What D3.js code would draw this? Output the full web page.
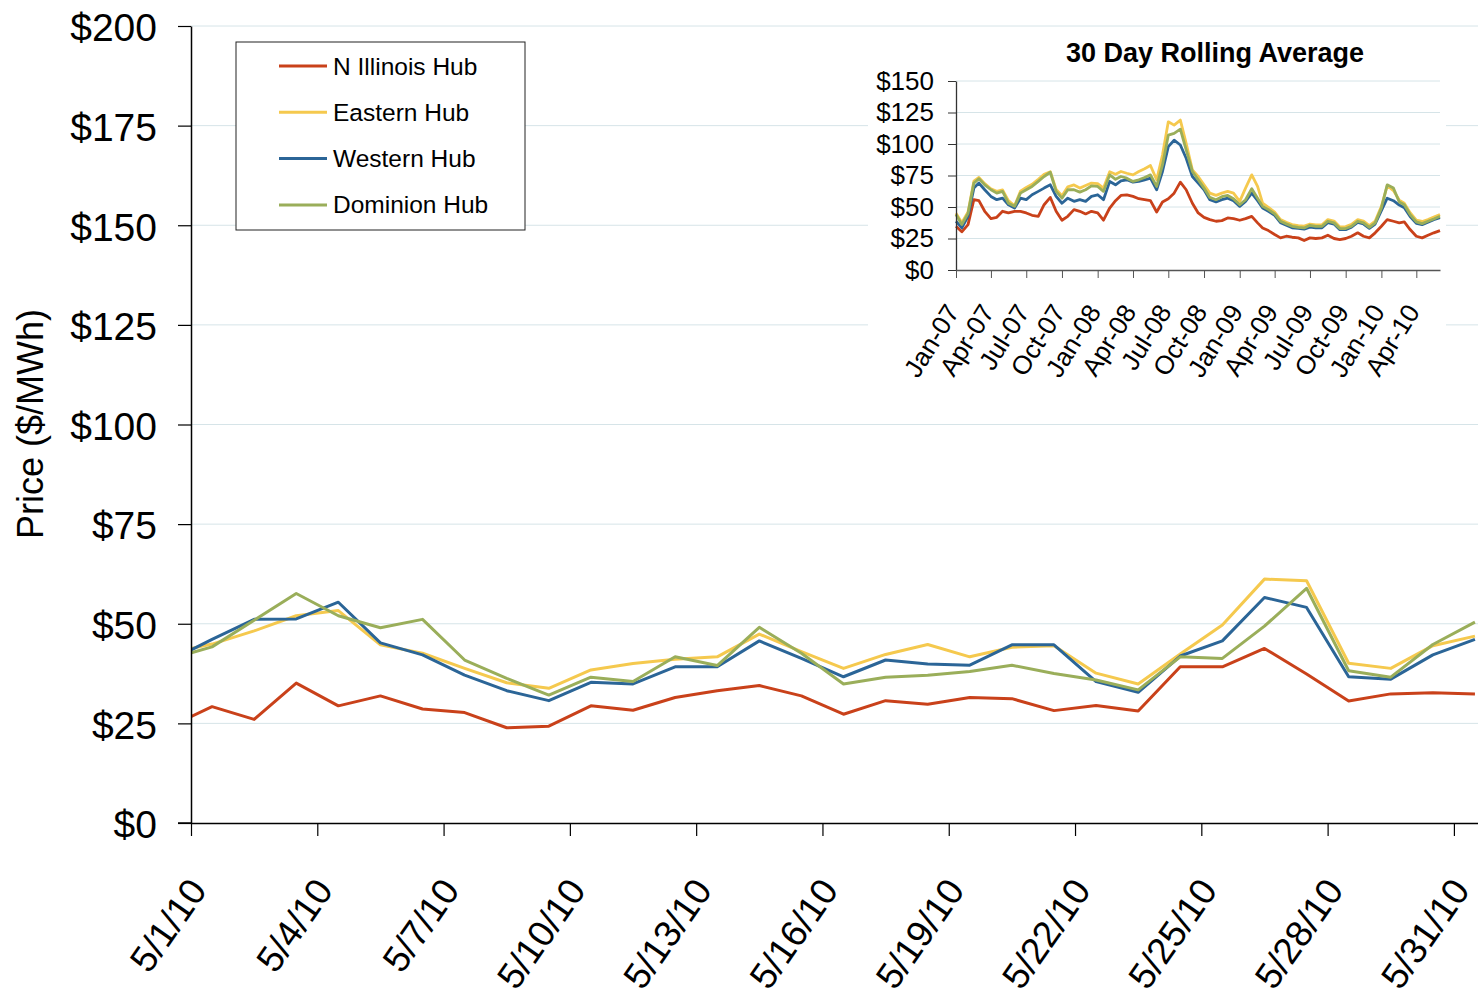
<!DOCTYPE html>
<html>
<head>
<meta charset="utf-8">
<script src="https://cdn.jsdelivr.net/npm/d3@7"></script>
<style>
  body { margin: 0; background: #fff; }
  svg { display: block; font-family: "Liberation Sans", Arial, sans-serif; }
</style>
</head>
<body>
<svg id="chart" width="1478" height="996"></svg>
<script>
// ---- daily prices, May 2010 (first entry 4/30 is only partly visible) ----
const dailyDates = ["2010-04-30",
  "2010-05-01","2010-05-02","2010-05-03","2010-05-04","2010-05-05","2010-05-06","2010-05-07","2010-05-08",
  "2010-05-09","2010-05-10","2010-05-11","2010-05-12","2010-05-13","2010-05-14","2010-05-15","2010-05-16",
  "2010-05-17","2010-05-18","2010-05-19","2010-05-20","2010-05-21","2010-05-22","2010-05-23","2010-05-24",
  "2010-05-25","2010-05-26","2010-05-27","2010-05-28","2010-05-29","2010-05-30","2010-05-31"];
const dailyNIllinois = [24.2, 29.2, 26.0, 35.1, 29.4, 31.9, 28.6, 27.7, 23.9, 24.3, 29.4, 28.3, 31.5, 33.2, 34.5, 31.9,
  27.3, 30.7, 29.8, 31.5, 31.2, 28.2, 29.5, 28.1, 39.2, 39.2, 43.8, 37.4, 30.6, 32.4, 32.7, 32.4];
const dailyEastern = [42.7, 44.9, 48.2, 52.0, 53.3, 44.7, 42.6, 38.8, 35.2, 33.8, 38.4, 40.0, 41.1, 41.7, 47.4, 43.0,
  38.8, 42.3, 44.8, 41.7, 44.1, 44.5, 37.6, 34.9, 42.4, 49.7, 61.2, 60.8, 40.1, 38.8, 44.5, 46.9];
const dailyWestern = [40.7, 46.1, 51.1, 51.2, 55.4, 45.2, 42.2, 37.1, 33.2, 30.7, 35.3, 34.9, 39.2, 39.2, 45.7, 41.3,
  36.7, 40.9, 39.9, 39.6, 44.7, 44.7, 35.5, 32.8, 41.9, 45.7, 56.6, 54.1, 36.7, 36.1, 42.2, 46.1];
const dailyDominion = [41.2, 44.2, 50.9, 57.6, 52.0, 49.0, 51.1, 40.9, 36.3, 32.1, 36.6, 35.5, 41.7, 39.5, 49.1, 42.6,
  34.9, 36.6, 37.1, 38.0, 39.6, 37.5, 35.9, 33.4, 41.7, 41.3, 49.4, 58.9, 38.2, 36.6, 44.8, 50.4];

// ---- 30 day rolling average (read twice a month) ----
const rollDates = [
  "2007-01-01","2007-01-16","2007-02-01","2007-02-16","2007-03-01","2007-03-16","2007-04-01","2007-04-16",
  "2007-05-01","2007-05-16","2007-06-01","2007-06-16","2007-07-01","2007-07-16","2007-08-01","2007-08-16",
  "2007-09-01","2007-09-16","2007-10-01","2007-10-16","2007-11-01","2007-11-16","2007-12-01","2007-12-16",
  "2008-01-01","2008-01-16","2008-02-01","2008-02-16","2008-03-01","2008-03-16","2008-04-01","2008-04-16",
  "2008-05-01","2008-05-16","2008-06-01","2008-06-16","2008-07-01","2008-07-16","2008-08-01","2008-08-16",
  "2008-09-01","2008-09-16","2008-10-01","2008-10-16","2008-11-01","2008-11-16","2008-12-01","2008-12-16",
  "2009-01-01","2009-01-16","2009-02-01","2009-02-16","2009-03-01","2009-03-16","2009-04-01","2009-04-16",
  "2009-05-01","2009-05-16","2009-06-01","2009-06-16","2009-07-01","2009-07-16","2009-08-01","2009-08-16",
  "2009-09-01","2009-09-16","2009-10-01","2009-10-16","2009-11-01","2009-11-16","2009-12-01","2009-12-16",
  "2010-01-01","2010-01-16","2010-02-01","2010-02-16","2010-03-01","2010-03-16","2010-04-01","2010-04-16",
  "2010-05-01","2010-05-16","2010-06-01"];
const rollNIllinois = [
  34.7, 30.3, 36.0, 55.8, 55.0, 46.6, 40.8, 41.8, 46.6, 45.3, 46.6, 46.6, 45.3, 43.4, 42.6, 51.8,
  57.6, 46.6, 39.5, 42.6, 47.9, 46.6, 44.5, 46.6, 45.3, 39.5, 49.2, 55.0, 59.2, 59.7, 58.4, 56.6,
  55.8, 55.0, 46.0, 54.0, 56.6, 61.0, 69.7, 63.7, 53.0, 45.3, 41.8, 40.0, 38.7, 39.2, 41.3, 40.8,
  39.5, 40.8, 42.6, 37.4, 33.4, 31.3, 28.2, 25.5, 26.8, 26.0, 25.5, 23.4, 25.5, 25.0, 25.5, 27.6,
  25.0, 24.2, 25.0, 26.8, 29.5, 26.8, 25.5, 29.5, 34.7, 40.0, 38.7, 37.4, 38.2, 32.1, 26.8, 25.5,
  27.6, 29.5, 31.3];
const rollEastern = [
  45.0, 37.5, 46.0, 70.5, 73.5, 68.5, 64.5, 62.5, 63.5, 55.0, 51.0, 62.5, 65.5, 68.0, 72.0, 76.0,
  78.0, 64.0, 59.0, 66.0, 67.5, 65.0, 67.0, 69.0, 68.5, 65.0, 78.0, 76.0, 78.2, 76.8, 75.5, 78.2,
  80.3, 82.9, 71.6, 91.3, 117.6, 115.0, 119.0, 100.5, 79.5, 74.2, 67.6, 61.0, 59.2, 61.0, 62.4, 61.0,
  54.5, 65.0, 75.5, 66.3, 53.0, 49.7, 46.0, 40.0, 37.8, 36.0, 35.2, 34.8, 36.5, 35.8, 35.8, 40.0,
  38.8, 34.2, 34.5, 36.2, 40.0, 38.8, 35.2, 38.8, 50.5, 67.0, 63.0, 55.5, 53.0, 45.5, 39.5, 38.5,
  40.0, 42.0, 44.0];
const rollWestern = [
  38.7, 33.4, 42.6, 65.0, 69.0, 63.7, 58.4, 55.8, 57.0, 51.8, 49.2, 57.0, 55.8, 59.7, 62.4, 65.0,
  67.6, 58.4, 53.0, 57.0, 54.5, 55.8, 54.5, 58.4, 59.7, 55.8, 70.3, 67.6, 70.8, 71.6, 69.7, 70.3,
  71.6, 72.9, 63.7, 78.2, 97.9, 103.0, 99.2, 88.7, 74.2, 69.0, 63.7, 55.8, 54.0, 55.8, 57.0, 55.0,
  50.5, 54.5, 61.0, 55.0, 49.2, 46.6, 43.4, 37.5, 35.5, 33.5, 33.0, 32.5, 34.0, 33.5, 33.5, 37.5,
  36.5, 32.0, 32.0, 34.0, 37.8, 36.5, 33.0, 36.5, 47.0, 57.0, 55.0, 51.5, 49.5, 42.5, 37.0, 36.0,
  38.0, 40.0, 41.5];
const rollDominion = [
  44.0, 36.0, 45.0, 69.0, 72.4, 67.6, 63.7, 61.0, 62.4, 53.0, 50.5, 61.0, 63.7, 66.3, 70.3, 74.2,
  77.6, 62.4, 57.0, 63.7, 63.7, 61.8, 63.7, 66.8, 66.3, 62.4, 75.5, 72.0, 74.2, 72.9, 70.3, 71.6,
  73.4, 75.5, 66.3, 83.4, 107.0, 108.4, 111.8, 95.3, 78.2, 71.6, 65.0, 57.6, 55.8, 58.2, 59.2, 56.6,
  51.8, 55.8, 64.5, 57.0, 50.5, 47.9, 44.5, 38.7, 36.6, 34.7, 33.9, 33.4, 35.5, 34.7, 34.7, 38.7,
  37.4, 32.9, 32.9, 34.7, 38.7, 37.4, 33.9, 37.4, 49.2, 67.6, 65.0, 54.0, 51.8, 44.0, 38.2, 36.8,
  38.7, 40.5, 42.6];

const hubNames = ["N Illinois Hub", "Eastern Hub", "Western Hub", "Dominion Hub"];
const hubColors = ["#C9411A", "#F5C94E", "#2B6597", "#9AAE5A"];
const priceTicks = [0, 25, 50, 75, 100, 125, 150, 175, 200];
const insetTicks = [0, 25, 50, 75, 100, 125, 150];

const parse = d3.timeParse("%Y-%m-%d");
const svg = d3.select("#chart");
const gridColor = "#D6E4E8";

// ================= main chart =================
const x = d3.scaleTime()
  .domain([new Date(2010, 4, 1), new Date(2010, 5, 1)])
  .range([191, 1496]);
const y = d3.scaleLinear().domain([0, 200]).range([823, 26]);

svg.append("g")
  .selectAll("line")
  .data(priceTicks.filter(d => d > 0))
  .join("line")
  .attr("x1", 191).attr("x2", 1478)
  .attr("y1", d => y(d)).attr("y2", d => y(d))
  .attr("stroke", gridColor).attr("stroke-width", 1);

svg.append("clipPath").attr("id", "mainClip")
  .append("rect").attr("x", 191).attr("y", 0).attr("width", 1300).attr("height", 823);

const dailySeries = [dailyNIllinois, dailyEastern, dailyWestern, dailyDominion];
const dailyLine = d3.line()
  .x((d, i) => x(d3.timeHour.offset(parse(dailyDates[i]), 12)))
  .y(d => y(d));

svg.append("g").attr("clip-path", "url(#mainClip)")
  .selectAll("path")
  .data(dailySeries)
  .join("path")
  .attr("d", d => dailyLine(d))
  .attr("fill", "none")
  .attr("stroke", (d, i) => hubColors[i])
  .attr("stroke-width", 3)
  .attr("stroke-linejoin", "round");

// y axis
const yAxis = svg.append("g")
  .attr("transform", "translate(191,0)")
  .call(d3.axisLeft(y).tickValues(priceTicks).tickSize(13).tickPadding(21)
    .tickSizeOuter(0).tickFormat(d => "$" + d));
yAxis.select(".domain").attr("stroke", "#000").attr("stroke-width", 1.5);
yAxis.selectAll(".tick line").attr("stroke", "#000").attr("stroke-width", 1.2);
yAxis.selectAll("text").attr("font-size", 39).attr("fill", "#000").attr("dy", "0.38em")
  .attr("font-family", "'Liberation Sans', Arial, sans-serif");

// x axis
const xAxis = svg.append("g")
  .attr("transform", "translate(0,823)")
  .call(d3.axisBottom(x)
    .tickValues(d3.timeDay.range(new Date(2010, 4, 1), new Date(2010, 5, 1), 3))
    .tickSize(13).tickSizeOuter(0)
    .tickFormat(d3.timeFormat("%-m/%-d/%y")));
xAxis.select(".domain").attr("stroke", "#000").attr("stroke-width", 1.5);
xAxis.selectAll(".tick line").attr("stroke", "#000").attr("stroke-width", 1.2);
xAxis.selectAll("text")
  .attr("font-size", 37).attr("fill", "#000")
  .attr("font-family", "'Liberation Sans', Arial, sans-serif")
  .attr("text-anchor", "end")
  .attr("x", 0).attr("y", 0).attr("dy", "0.35em")
  .attr("transform", "translate(6,60) rotate(-55)");

// x axis line continues left to the $0 tick
svg.append("line").attr("x1", 178).attr("x2", 191).attr("y1", 823).attr("y2", 823)
  .attr("stroke", "#000").attr("stroke-width", 1.5);

// axis title
svg.append("text")
  .attr("transform", "translate(30,424) rotate(-90)")
  .attr("text-anchor", "middle").attr("dy", "0.35em")
  .attr("font-size", 36).attr("fill", "#000")
  .text("Price ($/MWh)");

// legend
const legend = svg.append("g");
legend.append("rect")
  .attr("x", 236).attr("y", 42).attr("width", 289).attr("height", 188)
  .attr("fill", "#fff").attr("stroke", "#222").attr("stroke-width", 1);
const legendRows = legend.selectAll("g.row")
  .data(hubNames)
  .join("g").attr("class", "row")
  .attr("transform", (d, i) => `translate(0,${66 + i * 46.3})`);
legendRows.append("line")
  .attr("x1", 279).attr("x2", 327).attr("y1", 0).attr("y2", 0)
  .attr("stroke", (d, i) => hubColors[i]).attr("stroke-width", 3);
legendRows.append("text")
  .attr("x", 333).attr("dy", "0.35em")
  .attr("font-size", 24.5).attr("fill", "#000")
  .text(d => d);

// ================= inset =================
svg.append("rect")
  .attr("x", 868).attr("y", 31).attr("width", 578).attr("height", 365)
  .attr("fill", "#fff");

const ix = d3.scaleTime()
  .domain([new Date(2007, 0, 1), new Date(2010, 5, 1)])
  .range([956, 1440]);
const iy = d3.scaleLinear().domain([0, 150]).range([270, 81]);

svg.append("text")
  .attr("x", 1215).attr("y", 62)
  .attr("text-anchor", "middle")
  .attr("font-size", 27).attr("font-weight", "bold").attr("fill", "#000")
  .text("30 Day Rolling Average");

svg.append("g")
  .selectAll("line")
  .data(insetTicks.filter(d => d > 0))
  .join("line")
  .attr("x1", 956).attr("x2", 1440)
  .attr("y1", d => iy(d)).attr("y2", d => iy(d))
  .attr("stroke", gridColor).attr("stroke-width", 1);

const rollSeries = [rollNIllinois, rollEastern, rollWestern, rollDominion];
const rollLine = d3.line()
  .x((d, i) => ix(parse(rollDates[i])))
  .y(d => iy(d));

svg.append("g")
  .selectAll("path")
  .data(rollSeries)
  .join("path")
  .attr("d", d => rollLine(d))
  .attr("fill", "none")
  .attr("stroke", (d, i) => hubColors[i])
  .attr("stroke-width", 2.8)
  .attr("stroke-linejoin", "round");

const iyAxis = svg.append("g")
  .attr("transform", "translate(956,0)")
  .call(d3.axisLeft(iy).tickValues(insetTicks).tickSize(8).tickPadding(14)
    .tickSizeOuter(0).tickFormat(d => "$" + d));
iyAxis.select(".domain").attr("stroke", "#333").attr("stroke-width", 1.3);
iyAxis.selectAll(".tick line").attr("stroke", "#333");
iyAxis.selectAll("text").attr("font-size", 26).attr("fill", "#000")
  .attr("font-family", "'Liberation Sans', Arial, sans-serif");

const ixAxis = svg.append("g")
  .attr("transform", "translate(0,270)")
  .call(d3.axisBottom(ix)
    .tickValues(d3.timeMonth.range(new Date(2007, 0, 1), new Date(2010, 4, 1), 3))
    .tickSize(8).tickSizeOuter(0)
    .tickFormat(d3.timeFormat("%b-%y")));
ixAxis.select(".domain").attr("stroke", "#555").attr("stroke-width", 1.5);
ixAxis.selectAll(".tick line").attr("stroke", "#555");
ixAxis.selectAll("text")
  .attr("font-size", 26).attr("fill", "#000")
  .attr("font-family", "'Liberation Sans', Arial, sans-serif")
  .attr("text-anchor", "end")
  .attr("x", 0).attr("y", 0).attr("dy", "0.35em")
  .attr("transform", "translate(-4,37) rotate(-58)");
</script>
</body>
</html>
